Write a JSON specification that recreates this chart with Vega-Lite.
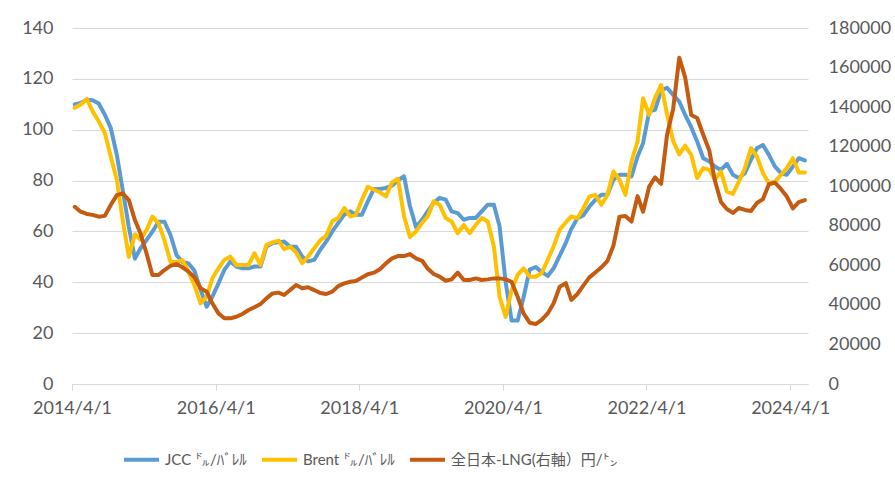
{
"$schema": "https://vega.github.io/schema/vega-lite/v6.json",
"width": 736, "height": 356,
"autosize": "none",
"padding": {"left": 72, "top": 28, "right": 87, "bottom": 103},
"background": "white",
"config": {"view": {"stroke": null}, "font": "Lato"},
"data": {"values": [
{"d":"2014-04-15","jcc":109.9,"brent":108.6,"lng":89600},
{"d":"2014-05-15","jcc":110.5,"brent":109.9,"lng":87100},
{"d":"2014-06-15","jcc":111.8,"brent":112.1,"lng":86000},
{"d":"2014-07-15","jcc":111.6,"brent":107.2,"lng":85500},
{"d":"2014-08-15","jcc":110.3,"brent":103.3,"lng":84600},
{"d":"2014-09-15","jcc":105.9,"brent":98.7,"lng":85000},
{"d":"2014-10-15","jcc":100.7,"brent":89.5,"lng":90500},
{"d":"2014-11-15","jcc":90.1,"brent":80.3,"lng":95500},
{"d":"2014-12-15","jcc":76.3,"brent":64.5,"lng":96400},
{"d":"2015-01-15","jcc":61.8,"brent":50.0,"lng":93000},
{"d":"2015-02-15","jcc":49.3,"brent":58.9,"lng":82900},
{"d":"2015-03-15","jcc":53.3,"brent":56.8,"lng":76200},
{"d":"2015-04-15","jcc":56.6,"brent":60.5,"lng":66100},
{"d":"2015-05-15","jcc":59.9,"brent":65.8,"lng":55100},
{"d":"2015-06-15","jcc":63.8,"brent":63.2,"lng":55100},
{"d":"2015-07-15","jcc":63.8,"brent":56.6,"lng":57600},
{"d":"2015-08-15","jcc":58.6,"brent":48.0,"lng":59700},
{"d":"2015-09-15","jcc":50.7,"brent":48.0,"lng":60700},
{"d":"2015-10-15","jcc":48.0,"brent":48.7,"lng":59000},
{"d":"2015-11-15","jcc":47.4,"brent":44.1,"lng":56800},
{"d":"2015-12-15","jcc":44.5,"brent":38.8,"lng":54000},
{"d":"2016-01-15","jcc":37.0,"brent":31.7,"lng":48400},
{"d":"2016-02-15","jcc":30.4,"brent":34.3,"lng":46700},
{"d":"2016-03-15","jcc":34.3,"brent":41.6,"lng":40800},
{"d":"2016-04-15","jcc":39.6,"brent":45.5,"lng":35700},
{"d":"2016-05-15","jcc":44.9,"brent":48.8,"lng":33200},
{"d":"2016-06-15","jcc":48.2,"brent":50.1,"lng":33200},
{"d":"2016-07-15","jcc":46.2,"brent":46.8,"lng":34000},
{"d":"2016-08-15","jcc":45.5,"brent":46.8,"lng":35400},
{"d":"2016-09-15","jcc":45.5,"brent":46.8,"lng":37400},
{"d":"2016-10-15","jcc":46.2,"brent":51.4,"lng":38800},
{"d":"2016-11-15","jcc":46.2,"brent":46.8,"lng":40400},
{"d":"2016-12-15","jcc":54.1,"brent":54.7,"lng":43300},
{"d":"2017-01-15","jcc":55.4,"brent":55.7,"lng":45800},
{"d":"2017-02-15","jcc":55.7,"brent":56.4,"lng":46200},
{"d":"2017-03-15","jcc":56.0,"brent":53.0,"lng":45000},
{"d":"2017-04-15","jcc":54.0,"brent":54.0,"lng":47500},
{"d":"2017-05-15","jcc":54.0,"brent":51.7,"lng":50100},
{"d":"2017-06-15","jcc":50.1,"brent":47.5,"lng":48400},
{"d":"2017-07-15","jcc":48.2,"brent":50.1,"lng":48900},
{"d":"2017-08-15","jcc":48.8,"brent":53.4,"lng":47500},
{"d":"2017-09-15","jcc":52.8,"brent":56.5,"lng":46000},
{"d":"2017-10-15","jcc":56.0,"brent":58.3,"lng":45500},
{"d":"2017-11-15","jcc":60.0,"brent":64.0,"lng":46700},
{"d":"2017-12-15","jcc":63.3,"brent":65.3,"lng":49500},
{"d":"2018-01-15","jcc":66.6,"brent":69.2,"lng":50900},
{"d":"2018-02-15","jcc":67.9,"brent":65.9,"lng":51700},
{"d":"2018-03-15","jcc":66.6,"brent":66.6,"lng":52100},
{"d":"2018-04-15","jcc":66.6,"brent":72.5,"lng":53800},
{"d":"2018-05-15","jcc":71.8,"brent":77.5,"lng":55500},
{"d":"2018-06-15","jcc":76.7,"brent":76.4,"lng":56300},
{"d":"2018-07-15","jcc":76.7,"brent":75.4,"lng":58000},
{"d":"2018-08-15","jcc":77.1,"brent":73.8,"lng":61000},
{"d":"2018-09-15","jcc":78.0,"brent":79.3,"lng":63500},
{"d":"2018-10-15","jcc":80.1,"brent":80.7,"lng":64700},
{"d":"2018-11-15","jcc":81.7,"brent":66.0,"lng":64700},
{"d":"2018-12-15","jcc":70.0,"brent":57.8,"lng":65700},
{"d":"2019-01-15","jcc":61.7,"brent":60.0,"lng":63500},
{"d":"2019-02-15","jcc":64.6,"brent":63.3,"lng":62300},
{"d":"2019-03-15","jcc":67.9,"brent":65.9,"lng":58400},
{"d":"2019-04-15","jcc":71.2,"brent":71.8,"lng":55600},
{"d":"2019-05-15","jcc":73.2,"brent":70.5,"lng":54300},
{"d":"2019-06-15","jcc":72.5,"brent":65.3,"lng":52200},
{"d":"2019-07-15","jcc":67.9,"brent":63.9,"lng":52900},
{"d":"2019-08-15","jcc":67.2,"brent":59.3,"lng":56300},
{"d":"2019-09-15","jcc":64.6,"brent":62.6,"lng":52600},
{"d":"2019-10-15","jcc":65.3,"brent":59.3,"lng":52600},
{"d":"2019-11-15","jcc":65.3,"brent":62.6,"lng":53400},
{"d":"2019-12-15","jcc":67.9,"brent":65.3,"lng":52600},
{"d":"2020-01-15","jcc":70.5,"brent":63.9,"lng":52900},
{"d":"2020-02-15","jcc":70.5,"brent":54.1,"lng":53400},
{"d":"2020-03-15","jcc":62.0,"brent":34.3,"lng":53400},
{"d":"2020-04-15","jcc":40.0,"brent":26.4,"lng":52900},
{"d":"2020-05-15","jcc":25.0,"brent":37.0,"lng":51700},
{"d":"2020-06-15","jcc":25.0,"brent":42.9,"lng":44100},
{"d":"2020-07-15","jcc":34.0,"brent":45.5,"lng":35700},
{"d":"2020-08-15","jcc":45.0,"brent":42.2,"lng":31000},
{"d":"2020-09-15","jcc":46.0,"brent":42.2,"lng":30300},
{"d":"2020-10-15","jcc":44.0,"brent":43.6,"lng":32400},
{"d":"2020-11-15","jcc":42.5,"brent":48.8,"lng":35700},
{"d":"2020-12-15","jcc":45.5,"brent":54.1,"lng":40800},
{"d":"2021-01-15","jcc":50.5,"brent":60.7,"lng":49200},
{"d":"2021-02-15","jcc":55.5,"brent":63.5,"lng":51000},
{"d":"2021-03-15","jcc":61.0,"brent":65.9,"lng":42500},
{"d":"2021-04-15","jcc":65.2,"brent":65.2,"lng":45500},
{"d":"2021-05-15","jcc":66.3,"brent":69.1,"lng":49700},
{"d":"2021-06-15","jcc":69.8,"brent":73.7,"lng":53900},
{"d":"2021-07-15","jcc":72.4,"brent":74.4,"lng":56400},
{"d":"2021-08-15","jcc":74.4,"brent":70.5,"lng":59000},
{"d":"2021-09-15","jcc":74.4,"brent":74.4,"lng":62300},
{"d":"2021-10-15","jcc":80.3,"brent":83.6,"lng":69900},
{"d":"2021-11-15","jcc":82.3,"brent":80.3,"lng":84600},
{"d":"2021-12-15","jcc":82.3,"brent":74.4,"lng":84900},
{"d":"2022-01-15","jcc":81.6,"brent":87.5,"lng":82100},
{"d":"2022-02-15","jcc":89.5,"brent":95.4,"lng":95000},
{"d":"2022-03-15","jcc":94.7,"brent":112.4,"lng":87100},
{"d":"2022-04-15","jcc":107.2,"brent":105.8,"lng":99800},
{"d":"2022-05-15","jcc":107.8,"brent":112.5,"lng":104500},
{"d":"2022-06-15","jcc":115.5,"brent":117.6,"lng":101200},
{"d":"2022-07-15","jcc":116.5,"brent":106.0,"lng":126000},
{"d":"2022-08-15","jcc":113.7,"brent":95.5,"lng":139000},
{"d":"2022-09-15","jcc":111.1,"brent":90.3,"lng":165000},
{"d":"2022-10-15","jcc":105.8,"brent":93.7,"lng":155000},
{"d":"2022-11-15","jcc":101.0,"brent":90.1,"lng":136000},
{"d":"2022-12-15","jcc":95.4,"brent":81.0,"lng":134500},
{"d":"2023-01-15","jcc":88.8,"brent":84.9,"lng":126000},
{"d":"2023-02-15","jcc":87.5,"brent":84.2,"lng":118000},
{"d":"2023-03-15","jcc":85.5,"brent":80.3,"lng":103000},
{"d":"2023-04-15","jcc":84.2,"brent":83.6,"lng":92000},
{"d":"2023-05-15","jcc":86.6,"brent":75.7,"lng":88500},
{"d":"2023-06-15","jcc":82.3,"brent":74.8,"lng":86500},
{"d":"2023-07-15","jcc":81.0,"brent":79.6,"lng":89000},
{"d":"2023-08-15","jcc":82.9,"brent":84.9,"lng":88000},
{"d":"2023-09-15","jcc":88.2,"brent":92.7,"lng":87500},
{"d":"2023-10-15","jcc":92.7,"brent":89.5,"lng":91500},
{"d":"2023-11-15","jcc":94.0,"brent":82.9,"lng":93500},
{"d":"2023-12-15","jcc":90.1,"brent":79.0,"lng":101000},
{"d":"2024-01-15","jcc":85.5,"brent":79.6,"lng":101800},
{"d":"2024-02-15","jcc":82.9,"brent":82.3,"lng":98500},
{"d":"2024-03-15","jcc":82.3,"brent":84.9,"lng":94800},
{"d":"2024-04-15","jcc":85.5,"brent":88.8,"lng":88800},
{"d":"2024-05-15","jcc":88.8,"brent":83.2,"lng":92000},
{"d":"2024-06-15","jcc":87.9,"brent":83.2,"lng":93000}
]},
"encoding": {
  "x": {"field": "d", "type": "temporal",
    "scale": {"type": "utc", "domain": [{"year": 2014, "month": 4, "date": 1, "utc": true}, {"year": 2024, "month": 7, "date": 1, "utc": true}]},
    "axis": {"title": null, "format": "%Y/%-m/%-d",
      "values": [{"year": 2014, "month": 4, "date": 1, "utc": true}, {"year": 2016, "month": 4, "date": 1, "utc": true}, {"year": 2018, "month": 4, "date": 1, "utc": true}, {"year": 2020, "month": 4, "date": 1, "utc": true}, {"year": 2022, "month": 4, "date": 1, "utc": true}, {"year": 2024, "month": 4, "date": 1, "utc": true}],
      "labelFontSize": 18, "labelFont": "Lato", "labelColor": "#595959", "labelFlush": false,
      "tickColor": "#D9D9D9", "tickSize": 6, "domainColor": "#D9D9D9", "grid": false, "labelPadding": 9}}
},
"layer": [
  {"layer": [
    {"mark": {"type": "line", "strokeWidth": 4, "strokeCap": "round", "strokeJoin": "round"},
     "encoding": {
       "y": {"field": "jcc", "type": "quantitative", "scale": {"domain": [0, 140]},
         "axis": {"title": null, "values": [0, 20, 40, 60, 80, 100, 120, 140], "labelFontSize": 18, "labelFont": "Lato", "labelColor": "#595959", "domain": false, "ticks": false, "labelPadding": 19, "grid": true, "gridColor": "#D9D9D9", "gridWidth": 1}},
       "color": {"datum": "jcc", "type": "nominal",
         "scale": {"domain": ["jcc", "brent", "lng"], "range": ["#5B9BD5", "#FFC000", "#C55A11"]},
         "legend": {"title": null, "orient": "none", "legendX": 50, "legendY": 412, "direction": "horizontal", "padding": 0,
           "symbolType": "stroke", "symbolSize": 1225, "symbolStrokeWidth": 4, "labelFontSize": 15, "labelLimit": 400,
           "labelFont": "Lato, Noto Sans CJK JP", "labelColor": "#595959", "columnPadding": 7, "labelOffset": 4,
           "labelExpr": "datum.label == 'jcc' ? 'JCC ㌦/ﾊﾞﾚﾙ' : datum.label == 'brent' ? 'Brent ㌦/ﾊﾞﾚﾙ' : '全日本-LNG(右軸）円/㌧'"}}
     }},
    {"mark": {"type": "line", "strokeWidth": 4, "strokeCap": "round", "strokeJoin": "round"},
     "encoding": {
       "y": {"field": "brent", "type": "quantitative", "scale": {"domain": [0, 140]},
         "axis": {"title": null, "values": [0, 20, 40, 60, 80, 100, 120, 140], "labelFontSize": 18, "labelFont": "Lato", "labelColor": "#595959", "domain": false, "ticks": false, "labelPadding": 19, "grid": true, "gridColor": "#D9D9D9", "gridWidth": 1}},
       "color": {"datum": "brent", "type": "nominal"}
     }}
  ]},
  {"mark": {"type": "line", "strokeWidth": 4, "strokeCap": "round", "strokeJoin": "round"},
   "encoding": {
     "y": {"field": "lng", "type": "quantitative", "scale": {"domain": [0, 180000]},
       "axis": {"orient": "right", "title": null, "format": "d", "values": [0, 20000, 40000, 60000, 80000, 100000, 120000, 140000, 160000, 180000], "labelFontSize": 18, "labelFont": "Lato", "labelColor": "#595959", "domain": false, "ticks": false, "labelPadding": 20, "grid": false}},
     "color": {"datum": "lng", "type": "nominal"}
   }}
],
"resolve": {"scale": {"y": "independent"}}
}
